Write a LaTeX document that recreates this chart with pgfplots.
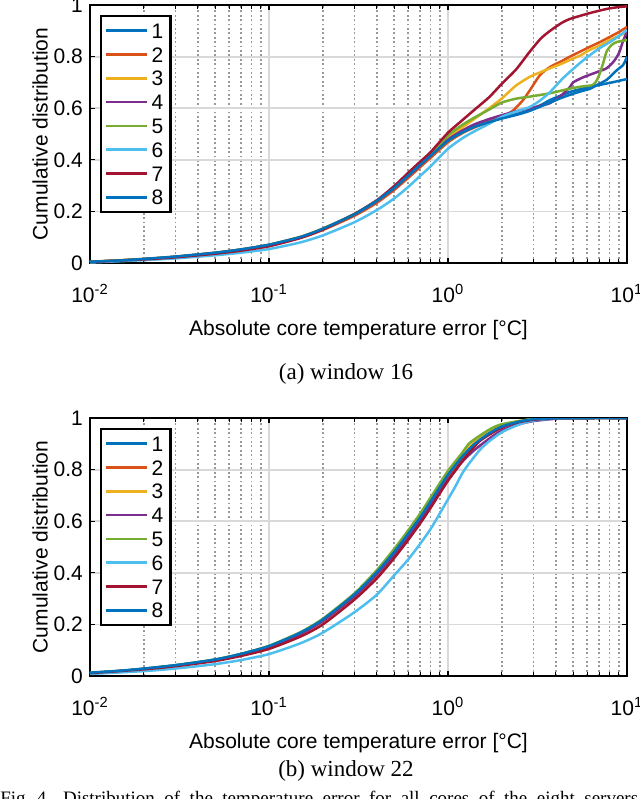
\documentclass[border=0pt]{standalone}
\usepackage{fontspec}
\setmainfont{Liberation Sans}
\newfontfamily\capfont{Liberation Serif}
\usepackage{pgfplots}
\pgfplotsset{compat=1.18}
\definecolor{c1}{rgb}{0,0.447,0.741}
\definecolor{c2}{rgb}{0.85,0.325,0.098}
\definecolor{c3}{rgb}{0.929,0.694,0.125}
\definecolor{c4}{rgb}{0.494,0.184,0.556}
\definecolor{c5}{rgb}{0.466,0.674,0.188}
\definecolor{c6}{rgb}{0.301,0.745,0.933}
\definecolor{c7}{rgb}{0.635,0.078,0.184}
\pgfplotsset{
  cdfaxis/.style={
    xmin=0.01, xmax=10, ymin=0, ymax=1,
    scale only axis, width=268.5pt, height=129pt,
    font=\fontsize{10.5}{12}\selectfont,
    /pgf/number format/assume math mode=true,
    xtick={0.01,0.1,1,10},
    xticklabels={10\textsuperscript{-2},10\textsuperscript{-1},10\textsuperscript{0},10\textsuperscript{1}},
    xticklabel style={yshift=-7pt},
    ytick={0,0.2,0.4,0.6,0.8,1},
    yticklabels={0,0.2,0.4,0.6,0.8,1},
    tick align=inside, major tick length=2.5pt, minor tick length=1.8pt,
    tick style={black, line width=0.6pt},
    axis line style={line width=1.2pt},
    xmajorgrids, ymajorgrids, xminorgrids,
    major grid style={color=black!15, line width=0.9pt},
    minor grid style={color=black!40, line width=0.8pt, dash pattern=on 0.9pt off 1.3pt},
    xlabel={Absolute core temperature error [°C]},
    ylabel={Cumulative distribution},
    xlabel style={at={(axis description cs:0.5,-0.2597)}, anchor=center},
    ylabel style={at={(axis description cs:-0.0931,0.5)}, anchor=center},
    legend style={at={(0,1)}, anchor=north west, xshift=5pt, yshift=-5pt,
      draw=black, line width=1.2pt, fill=white, cells={anchor=west},
      nodes={inner sep=1.5pt, text height=7.5pt, text depth=0pt},
      row sep=1.4pt, inner xsep=2pt, inner ysep=2pt,
      font=\fontsize{10.5}{12}\selectfont},
    legend image code/.code={\draw[##1,line width=1.25pt] (0pt,0pt) -- (20.5pt,0pt);},
    every axis plot/.append style={line width=1.25pt, no markers, smooth, tension=0.4},
  }
}
\begin{document}
\begin{tikzpicture}[x=1pt,y=1pt]
\useasboundingbox (0,0) rectangle (320,-399.5);
% ---------------- (a) window 16 ----------------
\begin{semilogxaxis}[cdfaxis, at={(45pt,-2.5pt)}, anchor=north west]
\addplot[c1] coordinates {(0.01,0.004)(0.015,0.01)(0.02,0.015)(0.03,0.024)(0.05,0.039)(0.07,0.052)(0.1,0.07)(0.15,0.1)(0.2,0.132)(0.3,0.188)(0.4,0.24)(0.5,0.29)(0.6,0.338)(0.7,0.38)(0.8,0.415)(1.0,0.473)(1.2,0.507)(1.4,0.528)(1.7,0.548)(2.0,0.562)(2.5,0.58)(2.87,0.593)(3.3,0.612)(3.72,0.632)(4.3,0.65)(4.8,0.663)(5.5,0.674)(6.2,0.682)(7,0.69)(8,0.698)(9,0.706)(10,0.713)};
\addplot[c2] coordinates {(0.01,0.004)(0.02,0.015)(0.03,0.023)(0.05,0.038)(0.07,0.05)(0.1,0.068)(0.15,0.098)(0.2,0.128)(0.3,0.183)(0.4,0.233)(0.5,0.283)(0.6,0.33)(0.7,0.372)(0.8,0.408)(1.0,0.468)(1.2,0.503)(1.4,0.525)(1.7,0.548)(2.0,0.565)(2.3,0.59)(2.5,0.615)(2.63,0.632)(2.87,0.67)(3.27,0.729)(3.72,0.76)(4.3,0.782)(4.8,0.8)(5.5,0.82)(6.2,0.838)(7,0.855)(8,0.876)(9,0.895)(10,0.915)};
\addplot[c3] coordinates {(0.01,0.005)(0.02,0.016)(0.03,0.025)(0.05,0.04)(0.07,0.053)(0.1,0.071)(0.15,0.102)(0.2,0.134)(0.3,0.19)(0.4,0.242)(0.5,0.292)(0.6,0.342)(0.7,0.385)(0.8,0.42)(1.0,0.485)(1.2,0.525)(1.4,0.558)(1.7,0.6)(2.0,0.638)(2.4,0.688)(2.87,0.722)(3.3,0.74)(3.72,0.755)(4.3,0.772)(4.8,0.787)(5.5,0.805)(6.2,0.826)(7,0.842)(8,0.864)(9,0.88)(10,0.896)};
\addplot[c4] coordinates {(0.01,0.004)(0.02,0.015)(0.03,0.024)(0.05,0.039)(0.07,0.052)(0.1,0.07)(0.15,0.1)(0.2,0.131)(0.3,0.187)(0.4,0.239)(0.5,0.289)(0.6,0.337)(0.7,0.379)(0.8,0.416)(1.0,0.478)(1.2,0.513)(1.4,0.537)(1.7,0.558)(2.0,0.573)(2.4,0.588)(2.87,0.6)(3.3,0.61)(3.72,0.62)(4.3,0.65)(4.8,0.682)(5.0,0.7)(5.7,0.72)(6.8,0.74)(7.7,0.755)(8.4,0.78)(8.8,0.8)(9.1,0.82)(9.5,0.86)(10,0.896)};
\addplot[c5] coordinates {(0.01,0.004)(0.02,0.015)(0.03,0.024)(0.05,0.039)(0.07,0.052)(0.1,0.07)(0.15,0.1)(0.2,0.132)(0.3,0.189)(0.4,0.241)(0.5,0.292)(0.6,0.341)(0.7,0.384)(0.8,0.422)(1.0,0.494)(1.2,0.535)(1.4,0.563)(1.7,0.595)(2.0,0.622)(2.4,0.637)(2.87,0.645)(3.72,0.658)(4.8,0.676)(5.7,0.685)(6.46,0.69)(6.8,0.71)(7.06,0.736)(7.4,0.78)(7.7,0.82)(8.2,0.845)(8.8,0.857)(10,0.864)};
\addplot[c6] coordinates {(0.01,0.002)(0.02,0.011)(0.03,0.018)(0.05,0.03)(0.07,0.04)(0.1,0.054)(0.15,0.08)(0.2,0.107)(0.3,0.158)(0.4,0.205)(0.5,0.25)(0.6,0.295)(0.7,0.338)(0.8,0.375)(1.0,0.443)(1.2,0.483)(1.4,0.51)(1.7,0.54)(2.0,0.567)(2.4,0.587)(2.87,0.605)(3.3,0.632)(3.72,0.663)(4.4,0.717)(5.46,0.775)(6.8,0.826)(8.36,0.864)(10,0.903)};
\addplot[c7] coordinates {(0.01,0.004)(0.02,0.014)(0.03,0.022)(0.05,0.036)(0.07,0.048)(0.1,0.065)(0.15,0.097)(0.2,0.13)(0.3,0.19)(0.4,0.243)(0.5,0.298)(0.6,0.35)(0.7,0.393)(0.8,0.43)(1.0,0.505)(1.2,0.553)(1.4,0.593)(1.7,0.643)(2.0,0.695)(2.4,0.75)(2.87,0.82)(3.3,0.87)(3.72,0.9)(4.3,0.93)(4.8,0.946)(6.0,0.966)(7,0.978)(8,0.987)(9,0.992)(10,0.995)};
\addplot[c1] coordinates {(0.01,0.005)(0.015,0.01)(0.02,0.016)(0.03,0.025)(0.05,0.04)(0.07,0.053)(0.1,0.071)(0.15,0.101)(0.2,0.133)(0.3,0.189)(0.4,0.241)(0.5,0.291)(0.6,0.339)(0.7,0.381)(0.8,0.416)(1.0,0.474)(1.2,0.506)(1.4,0.527)(1.7,0.546)(2.0,0.56)(2.5,0.577)(2.87,0.59)(3.3,0.607)(3.72,0.622)(4.3,0.64)(4.8,0.652)(5.5,0.665)(6.2,0.675)(6.8,0.69)(7.7,0.71)(8.4,0.735)(8.8,0.748)(9.5,0.767)(9.8,0.785)(10,0.8)};
\legend{1,2,3,4,5,6,7,8}
\end{semilogxaxis}
\node[font=\capfont\fontsize{11.5}{13}\selectfont] at (173pt,-187pt) {(a) window 16};
% ---------------- (b) window 22 ----------------
\begin{semilogxaxis}[cdfaxis, at={(45pt,-209pt)}, anchor=north west]
\addplot[c1] coordinates {(0.01,0.012)(0.015,0.02)(0.02,0.028)(0.03,0.041)(0.05,0.063)(0.07,0.085)(0.1,0.115)(0.15,0.167)(0.2,0.218)(0.3,0.315)(0.4,0.4)(0.5,0.478)(0.6,0.55)(0.7,0.613)(0.8,0.675)(0.9,0.73)(1.0,0.778)(1.1,0.815)(1.2,0.848)(1.4,0.897)(1.7,0.94)(2.0,0.966)(2.5,0.985)(3.0,0.994)(4.0,0.999)(6,1)(10,1)};
\addplot[c2] coordinates {(0.01,0.011)(0.015,0.019)(0.02,0.027)(0.03,0.04)(0.05,0.061)(0.07,0.083)(0.1,0.112)(0.15,0.163)(0.2,0.213)(0.3,0.308)(0.4,0.392)(0.5,0.47)(0.6,0.542)(0.7,0.605)(0.8,0.667)(0.9,0.723)(1.0,0.772)(1.1,0.81)(1.2,0.845)(1.4,0.895)(1.7,0.94)(2.0,0.966)(2.5,0.985)(3.0,0.994)(4.0,0.999)(6,1)(10,1)};
\addplot[c3] coordinates {(0.01,0.012)(0.015,0.02)(0.02,0.028)(0.03,0.041)(0.05,0.063)(0.07,0.085)(0.1,0.115)(0.15,0.168)(0.2,0.22)(0.3,0.318)(0.4,0.405)(0.5,0.483)(0.6,0.556)(0.7,0.62)(0.8,0.683)(0.9,0.738)(1.0,0.788)(1.1,0.825)(1.2,0.857)(1.4,0.905)(1.7,0.945)(2.0,0.97)(2.5,0.987)(3.0,0.995)(4.0,0.999)(6,1)(10,1)};
\addplot[c4] coordinates {(0.01,0.011)(0.015,0.019)(0.02,0.027)(0.03,0.04)(0.05,0.061)(0.07,0.083)(0.1,0.112)(0.15,0.164)(0.2,0.214)(0.3,0.31)(0.4,0.395)(0.5,0.472)(0.6,0.543)(0.7,0.605)(0.8,0.665)(0.9,0.715)(1.0,0.76)(1.2,0.83)(1.4,0.875)(1.7,0.92)(2.0,0.952)(2.5,0.976)(3.0,0.988)(4.0,0.997)(6,1)(10,1)};
\addplot[c5] coordinates {(0.01,0.012)(0.015,0.02)(0.02,0.028)(0.03,0.042)(0.05,0.064)(0.07,0.086)(0.1,0.117)(0.15,0.17)(0.2,0.222)(0.3,0.32)(0.4,0.41)(0.5,0.492)(0.6,0.565)(0.7,0.63)(0.8,0.692)(0.9,0.747)(1.0,0.795)(1.2,0.865)(1.33,0.905)(1.7,0.955)(2.0,0.976)(3.0,0.997)(4.0,1)(10,1)};
\addplot[c6] coordinates {(0.01,0.008)(0.02,0.019)(0.03,0.029)(0.05,0.046)(0.07,0.062)(0.1,0.085)(0.15,0.127)(0.2,0.168)(0.3,0.247)(0.4,0.315)(0.5,0.39)(0.6,0.452)(0.7,0.513)(0.8,0.57)(0.9,0.63)(1.0,0.685)(1.1,0.735)(1.2,0.785)(1.3,0.82)(1.5,0.875)(1.7,0.91)(2.0,0.945)(2.5,0.975)(3.0,0.99)(4.0,0.998)(6,1)(10,1)};
\addplot[c7] coordinates {(0.01,0.011)(0.02,0.026)(0.03,0.038)(0.05,0.058)(0.07,0.078)(0.1,0.105)(0.15,0.153)(0.2,0.2)(0.3,0.296)(0.4,0.378)(0.5,0.457)(0.6,0.528)(0.7,0.592)(0.8,0.652)(0.9,0.708)(1.0,0.757)(1.11,0.8)(1.2,0.833)(1.5,0.91)(2.0,0.963)(2.5,0.984)(3.0,0.993)(4.0,0.999)(6,1)(10,1)};
\addplot[c1] coordinates {(0.01,0.013)(0.015,0.021)(0.02,0.029)(0.03,0.042)(0.05,0.064)(0.07,0.086)(0.1,0.116)(0.15,0.168)(0.2,0.219)(0.3,0.316)(0.4,0.402)(0.5,0.48)(0.6,0.552)(0.7,0.615)(0.8,0.677)(0.9,0.732)(1.0,0.78)(1.1,0.817)(1.2,0.85)(1.4,0.898)(1.7,0.941)(2.0,0.967)(2.5,0.986)(3.0,0.995)(4.0,0.999)(6,1)(10,1)};
\legend{1,2,3,4,5,6,7,8}
\end{semilogxaxis}
\node[font=\capfont\fontsize{11.5}{13}\selectfont] at (173pt,-385.5pt) {(b) window 22};
\node[anchor=base west, inner sep=0pt, font=\capfont\fontsize{9.5}{11}\selectfont] at (0pt,-402pt) {Fig. 4.\hspace{6pt}Distribution\ \ of\ \ the\ \ temperature\ \ error\ \ for\ \ all\ \ cores\ \ of\ \ the\ \ eight\ \ servers\ \ for\ \ windows\ \ 16\ \ and\ \ 22.};
\end{tikzpicture}
\end{document}
